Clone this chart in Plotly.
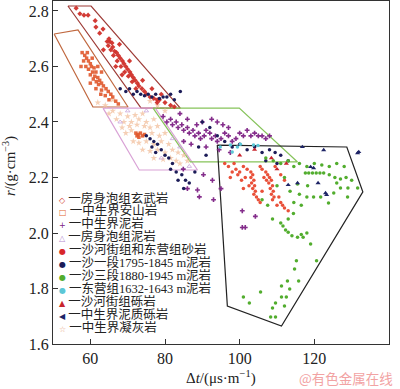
import plotly.graph_objects as go

# ---------------- data ----------------
s1_name = "房身泡组玄武岩"
s1_x = [56.2,57.2,58.3,59.4,61.3,61.5,63.4,62.5,64.5,65.2,65.8,64.8,66.0,65.5,66.5,67.0,66.2,67.5,68.0,67.2,68.6,69.0,68.2,69.5,70.0,69.2,70.6,71.0,70.2,71.5,72.0,71.2,72.6,73.0,72.2,73.8,74.5,75.0,76.0,77.0,78.5,80.0,81.5,82.5,66.8,68.5,63.5,70.5,74.0,76.5,79.0,65.0,67.8,77.9,77.9]
s1_y = [2.81,2.79,2.785,2.785,2.765,2.742,2.735,2.72,2.69,2.69,2.685,2.675,2.67,2.66,2.655,2.65,2.64,2.64,2.63,2.62,2.62,2.61,2.60,2.60,2.59,2.58,2.58,2.57,2.565,2.56,2.55,2.545,2.54,2.53,2.52,2.52,2.51,2.50,2.49,2.485,2.48,2.47,2.46,2.455,2.60,2.57,2.66,2.62,2.55,2.52,2.50,2.70,2.68,2.48,2.47]

s2_name = "中生界安山岩"
s2_x = [57.8,58.5,59.0,58.2,59.5,60.0,58.8,60.3,61.0,59.5,60.6,61.5,60.0,61.2,62.0,60.8,62.5,61.6,63.0,62.2,63.5,64.2,63.0,64.8,65.5,64.0,66.0,65.0,66.8,67.5,62.8,61.5,59.2,60.5,62.0,63.0,57.5,60.0,72.2,72.8,73.4,74.0,73.0,72.5,74.5]
s2_y = [2.65,2.64,2.63,2.62,2.62,2.61,2.60,2.60,2.595,2.59,2.58,2.58,2.57,2.565,2.56,2.555,2.55,2.545,2.54,2.535,2.53,2.52,2.515,2.51,2.50,2.495,2.49,2.48,2.475,2.465,2.50,2.52,2.65,2.63,2.60,2.58,2.60,2.54,2.36,2.355,2.36,2.35,2.345,2.35,2.355]

s3_name = "中生界泥岩"
s3_x = [79.5,80.5,81.5,82,83,83.5,84.5,85,86,86.5,87.5,88,89,89.5,90.5,91,92,92.5,93.5,94,95,96,97,98,99,100,101,102,103,104,105,106,107,108,92.5,94,95.5,97,90,88.5,86,84,87,91,94.5,97.5,85,100.7,104.2,100.7,101.5,84.9,92.7,88.7,90.3,86,89.2,93,95]
s3_y = [2.42,2.40,2.41,2.39,2.40,2.38,2.39,2.37,2.38,2.36,2.37,2.35,2.36,2.34,2.35,2.37,2.36,2.34,2.35,2.33,2.34,2.36,2.35,2.33,2.34,2.36,2.35,2.37,2.35,2.36,2.35,2.35,2.34,2.35,2.41,2.40,2.39,2.38,2.40,2.39,2.41,2.43,2.32,2.31,2.30,2.29,2.33,2.08,2.06,2.02,2.02,2.23,2.19,2.155,2.21,2.16,2.13,2.12,2.16]

s4_name = "房身泡组泥岩"
s4_x = [70,82,84,86.5,75,68,79]
s4_y = [2.44,2.34,2.31,2.24,2.44,2.40,2.27]

s5_name = "沙河街组和东营组砂岩"
s5_x = [96,97,98.5,99,100,101,102,103,103.5,103,103.8,103.2,104,103.5,104.2,103.8,104.5,105,105.5,106,107,107.5,108,107.2,108.5,107.8,108.8,108.2,109,108.5,109.2,108.8,110.5,111,111.5,112,113,110,101.5,100.5,99.5,98,97.5,105.5,106.5,102.5,101,106,109.5,111,112]
s5_y = [2.25,2.24,2.25,2.23,2.22,2.24,2.23,2.22,2.21,2.20,2.19,2.18,2.17,2.16,2.15,2.14,2.13,2.12,2.11,2.23,2.22,2.21,2.20,2.19,2.19,2.18,2.17,2.16,2.15,2.14,2.13,2.12,2.13,2.11,2.10,2.09,2.08,2.10,2.20,2.19,2.21,2.22,2.20,2.24,2.20,2.17,2.16,2.15,2.24,2.21,2.19]

s6_name = "沙一段1795-1845 m泥岩"
s6_x = [68,69.5,70.5,71.5,72.5,73.5,74.5,75.5,76.5,77.5,78.5,79.5,80.5,81.5,82.5,84.1,75.0,76.0,77.0,76.5,78.0,79.0,77.5,80.0,81.0,82.0,81.5,83.0,84.5,85.5,86.5,83.5,85,88,90,92,94,96,98,100,102,104,106,108,109.5,111,113,107,110,89,91]
s6_y = [2.52,2.51,2.52,2.50,2.51,2.50,2.495,2.50,2.49,2.50,2.485,2.49,2.49,2.50,2.48,2.51,2.35,2.34,2.33,2.31,2.32,2.30,2.29,2.28,2.27,2.25,2.23,2.22,2.21,2.19,2.18,2.19,2.16,2.22,2.40,2.38,2.35,2.33,2.31,2.32,2.30,2.31,2.29,2.30,2.29,2.28,2.26,2.26,2.25,2.31,2.28]

s7_name = "沙三段1880-1945 m泥岩"
s7_x = [107,109,111,113,114.5,116,118,120,122,124,126,128,117.6,118.5,119.5,120.5,121.5,122.5,124,125.5,127,128.5,130,126,127,129,131.6,115.5,118.2,118,119.8,121.7,123.8,125.2,128.9,112,110,113.5,116,108.8,111,111.6,112.3,113,114.4,113,114,115.5,116.5,117,118,119,115.2,114.7,120.6,112.8,115.8,111.2,113.4,105.6,101,102.6,111.2,112.5,109.6,112,108.8,108.3,109.6,106,107.5,114.5,116.5]
s7_y = [2.27,2.26,2.25,2.26,2.24,2.25,2.24,2.25,2.245,2.24,2.25,2.24,2.216,2.216,2.216,2.216,2.216,2.216,2.21,2.20,2.195,2.20,2.19,2.18,2.162,2.162,2.162,2.177,2.17,2.13,2.13,2.13,2.108,2.144,2.13,2.20,2.17,2.15,2.14,2.05,2.036,2.025,2.011,2.05,2.07,2.003,1.99,1.985,1.995,1.985,2.00,1.96,1.90,1.87,1.90,1.827,1.827,1.809,1.798,1.787,1.769,1.748,1.769,1.769,1.748,1.737,1.73,1.697,1.697,2.12,2.10,2.11,2.10]

s8_name = "东营组1632-1643 m泥岩"
s8_x = [94.8,97.5,98,99.4,100.2,103.7,104.9]
s8_y = [2.31,2.317,2.292,2.31,2.32,2.317,2.315]

s9_name = "沙河街组砾岩"
s9_x = [100,104,108.5,110,112.5]
s9_y = [2.28,2.30,2.27,2.23,2.25]

s10_name = "中生界泥质砾岩"
s10_x = [116.8,122.5,131.6,131.9,119,119.8,113,115.5,123,121,123.3]
s10_y = [2.31,2.299,2.288,2.292,2.238,2.234,2.173,2.18,2.144,2.18,2.137]

s11_name = "中生界凝灰岩"
s11_x = [66,68,70,72,74,67,69,71,73,75,77,68.5,70.5,72.5,74.5,76,78,69.5,71,76.5,78.5,80,71.5,73,75,77,79,81,74,76,78,80,82,77,79.5,81.5,83,84,85,86,83.5,62,64,66,76,78,80,65]
s11_y = [2.44,2.43,2.42,2.425,2.43,2.41,2.40,2.40,2.41,2.40,2.41,2.38,2.385,2.39,2.385,2.38,2.385,2.36,2.37,2.36,2.35,2.36,2.33,2.325,2.33,2.32,2.33,2.32,2.30,2.295,2.30,2.29,2.30,2.27,2.265,2.27,2.26,2.25,2.28,2.26,2.29,2.47,2.46,2.48,2.475,2.46,2.44,2.43]

# zone outlines (data coordinates)
band_basalt_x = [54.0, 60.2, 84.1, 73.6, 54.0]
band_basalt_y = [2.818, 2.818, 2.450, 2.450, 2.818]
band_andesite_x = [50.3, 56.7, 70.1, 60.7, 50.3]
band_andesite_y = [2.717, 2.732, 2.454, 2.454, 2.717]
band_pink_x = [63.4, 77.4, 88.7, 73.1, 63.4]
band_pink_y = [2.450, 2.450, 2.227, 2.227, 2.450]
band_green_x = [76.8, 99.9, 115.5, 86.8, 76.8]
band_green_y = [2.450, 2.450, 2.256, 2.256, 2.450]
band_black_x = [94.0, 128.7, 133.0, 111.2, 96.7, 94.0]
band_black_y = [2.317, 2.310, 2.148, 1.665, 1.737, 2.317]

x_ticks = [60, 80, 100, 120, 140]
y_ticks = [1.6, 1.8, 2.0, 2.2, 2.4, 2.6, 2.8]

# ---------------- figure ----------------
fig = go.Figure()

zones = [
    (band_basalt_x, band_basalt_y, "#9e3b36"),
    (band_andesite_x, band_andesite_y, "#c0683f"),
    (band_pink_x, band_pink_y, "#d9a2d6"),
    (band_green_x, band_green_y, "#86c35a"),
    (band_black_x, band_black_y, "#222222"),
]
for zx, zy, zc in zones:
    fig.add_trace(go.Scatter(x=zx, y=zy, mode="lines", line=dict(color=zc, width=1.2),
                             showlegend=False, hoverinfo="skip"))

series = [
    (s11_x, s11_y, s11_name, "star", "#f3c3a3", 5, 0.8),
    (s4_x, s4_y, s4_name, "triangle-up-open", "#c9a6dc", 4, 0.8),
    (s2_x, s2_y, s2_name, "square", "#e0582c", 3.5, 0.9),
    (s1_x, s1_y, s1_name, "diamond", "#d0302a", 4, 0.95),
    (s3_x, s3_y, s3_name, "cross", "#7d2285", 4, 0.95),
    (s5_x, s5_y, s5_name, "circle", "#e8472e", 3.5, 0.95),
    (s6_x, s6_y, s6_name, "circle", "#1c1c58", 3.5, 1.0),
    (s7_x, s7_y, s7_name, "circle", "#52ad2e", 3.5, 1.0),
    (s8_x, s8_y, s8_name, "circle", "#5cc7d6", 3.5, 1.0),
    (s9_x, s9_y, s9_name, "triangle-up", "#c8252d", 4.5, 1.0),
    (s10_x, s10_y, s10_name, "triangle-up", "#1e2466", 4.5, 1.0),
]
for sx, sy, nm, sym, col, sz, op in series:
    fig.add_trace(go.Scatter(x=sx, y=sy, mode="markers", name=nm,
                             marker=dict(symbol=sym, color=col, size=sz, opacity=op,
                                         line=dict(width=0)),
                             showlegend=False))

# hand-made legend (text rows)
legend_rows = [
    (s1_name, "◇", "#d43a2c"),
    (s2_name, "□", "#e2662f"),
    (s3_name, "+", "#7d2285"),
    (s4_name, "△", "#b58bd0"),
    (s5_name, "●", "#d8262a"),
    (s6_name, "●", "#1c1c58"),
    (s7_name, "●", "#52ad2e"),
    (s8_name, "●", "#5cc7d6"),
    (s9_name, "▲", "#c8252d"),
    (s10_name, "◀", "#1e2466"),
    (s11_name, "☆", "#e8a07a"),
]
plot_top, plot_bot = 1, 344
for i, (nm, g, col) in enumerate(legend_rows):
    py = 198 + i * 12.9
    fig.add_annotation(
        x=0.012, y=(plot_bot - py) / (plot_bot - plot_top), xref="paper", yref="paper",
        xanchor="left", yanchor="middle", showarrow=False,
        text=f"<span style='color:{col};font-size:8px;font-family:DejaVu Sans'>{g}</span> 一{nm}",
        font=dict(family="Liberation Serif, Noto Sans CJK SC", size=12.5, color="#222"),
    )

# y-axis title
fig.add_annotation(x=-0.13, y=0.52, xref="paper", yref="paper", textangle=-90,
                   showarrow=False, xanchor="center", yanchor="middle",
                   text="<i>r</i>/(g·cm<sup>−3</sup>)",
                   font=dict(family="Liberation Serif", size=14.5, color="#222"))
# x-axis title
fig.add_annotation(x=0.5, y=-0.099, xref="paper", yref="paper", showarrow=False,
                   xanchor="center", yanchor="middle",
                   text="Δ<i>t</i>/(μs·m<sup>−1</sup>)",
                   font=dict(family="Liberation Serif", size=15, color="#222"))
# watermark
fig.add_annotation(x=1.018, y=-0.099, xref="paper", yref="paper", showarrow=False,
                   xanchor="right", yanchor="middle", text="@有色金属在线",
                   font=dict(family="Noto Sans CJK SC", size=13.5, color="#f2a3a3"))

axis_common = dict(showline=True, linecolor="#333", linewidth=1, mirror=True,
                   ticks="inside", ticklen=5, tickcolor="#333", showgrid=False,
                   zeroline=False,
                   tickfont=dict(family="Liberation Serif", size=16, color="#222"))
fig.update_xaxes(range=[50, 140], tickvals=x_ticks, **axis_common)
fig.update_yaxes(range=[1.6, 2.836], tickvals=y_ticks, tickformat=".1f", **axis_common)

fig.update_layout(width=400, height=389, margin=dict(l=53, r=11, t=1, b=45),
                  paper_bgcolor="white", plot_bgcolor="white", showlegend=False)

fig.write_html("out.html", config={"displayModeBar": False},
               post_script="document.body.style.margin='0';document.body.style.overflow='hidden';")
